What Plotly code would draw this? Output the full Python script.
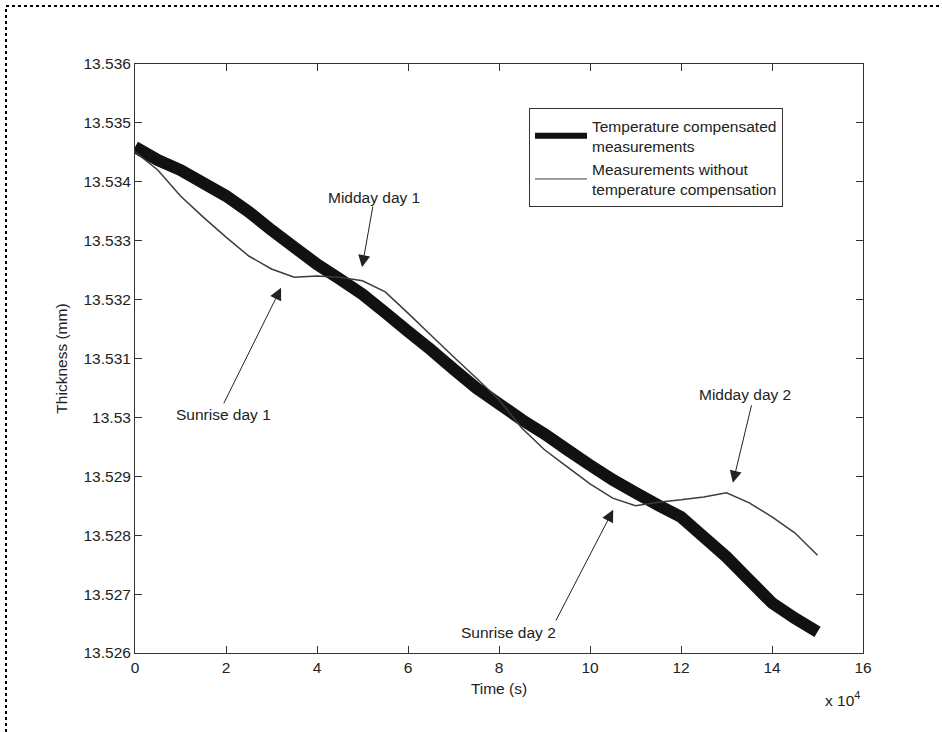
import plotly.graph_objects as go

# ---- data (time in units of 1e4 s) ----
time_1e4 = [0, 0.5, 1, 1.5, 2, 2.5, 3, 3.5, 4, 4.5, 5, 5.5, 6, 6.5, 7, 7.5,
            8, 8.5, 9, 9.5, 10, 10.5, 11, 11.5, 12, 12.5, 13, 13.5, 14, 14.5, 15]

compensated = [13.53459, 13.53437, 13.53420, 13.53398, 13.53376, 13.53349, 13.53318,
               13.53289, 13.53260, 13.53235, 13.53209, 13.53178, 13.53146, 13.53115,
               13.53082, 13.53050, 13.53023, 13.52996, 13.52972, 13.52945, 13.52919,
               13.52894, 13.52872, 13.52851, 13.52831, 13.52797, 13.52763, 13.52724,
               13.52685, 13.52659, 13.52636]

uncompensated = [13.53451, 13.53420, 13.53376, 13.53340, 13.53306, 13.53274, 13.53252,
                 13.53238, 13.53240, 13.53238, 13.53232, 13.53213, 13.53177, 13.53140,
                 13.53103, 13.53067, 13.53030, 13.52982, 13.52945, 13.52916, 13.52887,
                 13.52863, 13.52850, 13.52856, 13.52860, 13.52865, 13.52872, 13.52855,
                 13.52831, 13.52804, 13.52766]

x_tickvals = [0, 2, 4, 6, 8, 10, 12, 14, 16]
x_ticktext = ["0", "2", "4", "6", "8", "10", "12", "14", "16"]
y_tickvals = [13.526, 13.527, 13.528, 13.529, 13.530, 13.531,
              13.532, 13.533, 13.534, 13.535, 13.536]
y_ticktext = ["13.526", "13.527", "13.528", "13.529", "13.53", "13.531",
              "13.532", "13.533", "13.534", "13.535", "13.536"]

legend_names = ["Temperature compensated<br>measurements",
                "Measurements without<br>temperature compensation"]

# annotation arrows: tip in data units
note_texts = ["Midday day 1", "Sunrise day 1", "Midday day 2", "Sunrise day 2"]
note_x = [4.99, 3.21, 13.14, 10.51]
note_y = [13.53255, 13.53220, 13.52889, 13.52843]

FONT = "Liberation Sans, Arial, sans-serif"
FS = 15.5
TXT = "#222222"
AX = "#333333"

# layout helpers (pixel -> paper)
L, T, W, H = 135, 64, 728, 589
def px(x):
    return (x - L) / W
def py(y):
    return (T + H - y) / H

arrow_tail_off = [(11, -62), (-58, 117), (19, -79), (-58, 112)]
text_pos = [(374, 197), (223, 414), (745, 394), (509, 632)]

fig = go.Figure()
fig.add_trace(go.Scatter(x=time_1e4, y=compensated, mode="lines",
                         line=dict(color="#111111", width=12, simplify=False),
                         showlegend=False))
fig.add_trace(go.Scatter(x=time_1e4, y=uncompensated, mode="lines",
                         line=dict(color="#3c3c3c", width=1.5, simplify=False),
                         showlegend=False))
# legend samples
fig.add_trace(go.Scatter(x=[None], y=[None], mode="lines", name=legend_names[0],
                         line=dict(color="#111111", width=6)))
fig.add_trace(go.Scatter(x=[None], y=[None], mode="lines", name=legend_names[1],
                         line=dict(color="#3c3c3c", width=1)))

for t, x, y, (ax, ay), (tx, ty) in zip(note_texts, note_x, note_y, arrow_tail_off, text_pos):
    fig.add_annotation(x=x, y=y, xref="x", yref="y", text="", showarrow=True,
                       ax=ax, ay=ay, arrowhead=2, arrowsize=2.4, arrowwidth=1,
                       arrowcolor="#222222", standoff=0)
    fig.add_annotation(x=px(tx), y=py(ty), xref="paper", yref="paper", text=t,
                       showarrow=False, xanchor="center", yanchor="middle",
                       font=dict(family=FONT, size=FS, color=TXT))

# x 10^4 multiplier
fig.add_annotation(xref="paper", yref="paper", x=px(862), y=py(699),
                   xanchor="right", yanchor="middle", showarrow=False,
                   text="x 10<sup>4</sup>", font=dict(family=FONT, size=FS, color=TXT))

# dotted frame (top and left) as one path
bx, by, bb, br = px(6), py(6), py(732), px(942)
fig.add_shape(type="path", xref="paper", yref="paper",
              path=f"M {bx},{bb} L {bx},{by} L {br},{by}",
              line=dict(color="#000000", width=2, dash="dot"))

fig.update_layout(
    width=942, height=732,
    margin=dict(l=L, r=942 - L - W, t=T, b=732 - T - H),
    paper_bgcolor="white", plot_bgcolor="white",
    font=dict(family=FONT, size=FS, color=TXT),
    showlegend=True,
    legend=dict(x=px(529), y=py(108), xanchor="left", yanchor="top",
                bgcolor="white", bordercolor=AX, borderwidth=1, itemwidth=52,
                font=dict(family=FONT, size=FS, color=TXT), tracegroupgap=0),
    xaxis=dict(range=[0, 16], tickvals=x_tickvals, ticktext=x_ticktext,
               showgrid=False, zeroline=False, showline=True, linecolor=AX, linewidth=1,
               mirror="ticks", ticks="inside", ticklen=7, tickcolor=AX,
               title=dict(text="Time (s)", standoff=8, font=dict(family=FONT, size=FS, color=TXT))),
    yaxis=dict(range=[13.526, 13.536], tickvals=y_tickvals, ticktext=y_ticktext,
               showgrid=False, zeroline=False, showline=True, linecolor=AX, linewidth=1,
               mirror="ticks", ticks="inside", ticklen=7, tickcolor=AX,
               title=dict(text="Thickness (mm)", standoff=12, font=dict(family=FONT, size=FS, color=TXT))),
)

fig.write_html("out.html", config={"displayModeBar": False},
               post_script="document.body.style.margin='0';document.body.style.overflow='hidden';")
